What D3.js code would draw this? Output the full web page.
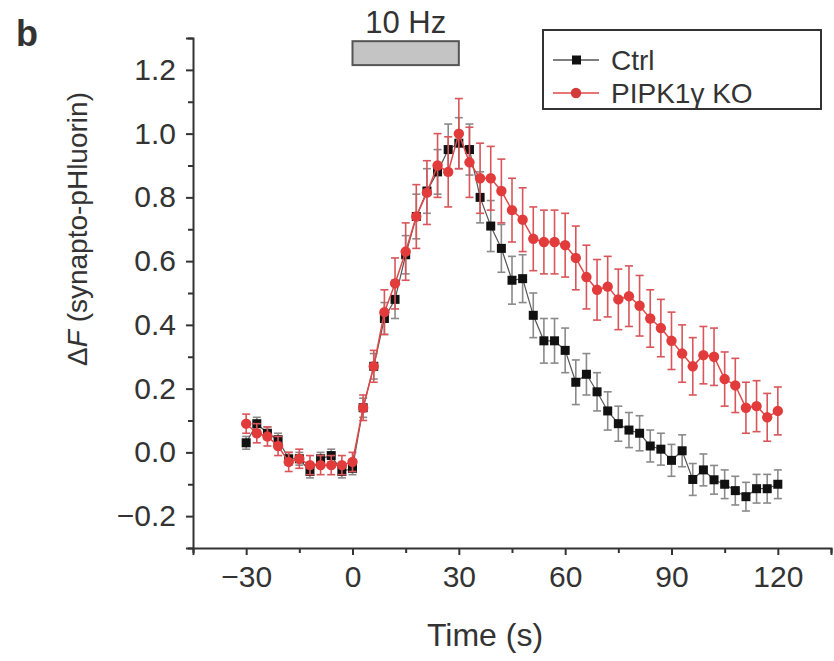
<!DOCTYPE html>
<html>
<head>
<meta charset="utf-8">
<script src="https://cdnjs.cloudflare.com/ajax/libs/d3/7.8.5/d3.min.js"></script>
<style>
  body { margin: 0; background: #fff; }
  text { font-family: "Liberation Sans", Arial, sans-serif; fill: #333; }
</style>
</head>
<body>
<svg width="834" height="661"></svg>
<script>
// time points, every 3 s from -30 to 120
var times = d3.range(-30, 121, 3);

var ctrlMean = [0.03, 0.09, 0.06, 0.04, -0.02, -0.02, -0.06, -0.02, -0.01, -0.06, -0.05,
  0.14, 0.27, 0.42, 0.48, 0.62, 0.74, 0.82, 0.88, 0.95, 0.97,
  0.95, 0.80, 0.71, 0.64, 0.54, 0.545, 0.43, 0.35, 0.35, 0.32,
  0.22, 0.245, 0.19, 0.13, 0.09, 0.07, 0.06, 0.02, 0.01, -0.025,
  0.005, -0.085, -0.055, -0.086, -0.10, -0.12, -0.139, -0.114, -0.114, -0.10];
var ctrlErr = [0.02, 0.02, 0.02, 0.02, 0.02, 0.02, 0.02, 0.02, 0.02, 0.02, 0.02,
  0.03, 0.04, 0.05, 0.06, 0.06, 0.07, 0.07, 0.07, 0.08, 0.08,
  0.08, 0.08, 0.08, 0.075, 0.075, 0.075, 0.07, 0.07, 0.07, 0.07,
  0.07, 0.065, 0.06, 0.06, 0.055, 0.055, 0.055, 0.05, 0.05, 0.05,
  0.05, 0.05, 0.05, 0.045, 0.045, 0.045, 0.045, 0.045, 0.045, 0.045];

var koMean = [0.09, 0.06, 0.05, 0.02, -0.03, -0.02, -0.04, -0.04, -0.04, -0.04, -0.03,
  0.14, 0.27, 0.44, 0.53, 0.63, 0.74, 0.815, 0.90, 0.88, 1.00,
  0.91, 0.86, 0.86, 0.82, 0.76, 0.73, 0.67, 0.66, 0.66, 0.65,
  0.61, 0.55, 0.51, 0.52, 0.48, 0.49, 0.46, 0.42, 0.39, 0.35,
  0.31, 0.27, 0.305, 0.30, 0.23, 0.21, 0.14, 0.145, 0.11, 0.13];
var koErr = [0.03, 0.03, 0.03, 0.03, 0.03, 0.03, 0.03, 0.03, 0.03, 0.03, 0.03,
  0.04, 0.05, 0.07, 0.08, 0.09, 0.10, 0.10, 0.10, 0.11, 0.11,
  0.11, 0.11, 0.10, 0.10, 0.10, 0.10, 0.10, 0.10, 0.10, 0.10,
  0.10, 0.10, 0.095, 0.095, 0.095, 0.095, 0.095, 0.09, 0.09, 0.09,
  0.09, 0.09, 0.09, 0.09, 0.085, 0.085, 0.08, 0.08, 0.075, 0.075];

var xTicks = [-30, 0, 30, 60, 90, 120];
var yTicks = [-0.2, 0, 0.2, 0.4, 0.6, 0.8, 1.0, 1.2];
var stimulus = {start: 0, end: 30, label: "10 Hz"};
var seriesNames = ["Ctrl", "PIPK1\u03b3 KO"];

var svg = d3.select("svg"),
    margin = {top: 38, right: 3, bottom: 113, left: 193},
    width = +svg.attr("width") - margin.left - margin.right,
    height = +svg.attr("height") - margin.top - margin.bottom,
    g = svg.append("g").attr("transform", "translate(" + margin.left + "," + margin.top + ")");

var x = d3.scaleLinear().domain([-45, 135]).range([0, width]),
    y = d3.scaleLinear().domain([-0.3, 1.3]).range([height, 0]);

var ctrl = times.map(function(t, i) { return {t: t, v: ctrlMean[i], e: ctrlErr[i]}; });
var ko = times.map(function(t, i) { return {t: t, v: koMean[i], e: koErr[i]}; });

// axes, majors labelled, minors in between
var xAxis = g.append("g")
    .attr("transform", "translate(0," + height + ")")
    .call(d3.axisBottom(x).tickValues(d3.range(-45, 136, 15)).tickSize(7).tickFormat(function(d) {
        return xTicks.indexOf(d) >= 0 ? d3.format("")(d).replace("-", "\u2212") : "";
    }));
var yAxis = g.append("g")
    .call(d3.axisLeft(y).tickValues(d3.range(-3, 14).map(function(d) { return d / 10; }))
        .tickSize(7).tickFormat(function(d) {
            var r = Math.round(d * 10);
            return yTicks.some(function(t) { return Math.round(t * 10) === r; })
                ? d3.format(".1f")(d).replace("-", "\u2212") : "";
        }));

[xAxis, yAxis].forEach(function(a) {
    a.select(".domain").attr("stroke", "#333").attr("stroke-width", 2);
    a.selectAll(".tick line").attr("stroke", "#333").attr("stroke-width", 2);
    a.selectAll(".tick text").attr("font-size", 30).attr("fill", "#333")
        .attr("font-family", "Liberation Sans, Arial, sans-serif");
});
xAxis.selectAll(".tick text").attr("dy", "1.0em").attr("y", 9);
yAxis.selectAll(".tick text").attr("x", -17);
xAxis.selectAll(".tick").filter(function(d) { return xTicks.indexOf(d) < 0; })
    .select("line").attr("y2", 5);
yAxis.selectAll(".tick").filter(function(d) { return Math.round(d * 10) % 2 !== 0; })
    .select("line").attr("x2", -5);

// axis titles
svg.append("text")
    .attr("x", 485).attr("y", 646)
    .attr("text-anchor", "middle").attr("font-size", 32)
    .text("Time (s)");

var yl = svg.append("text")
    .attr("transform", "translate(87,229) rotate(-90)")
    .attr("text-anchor", "middle").attr("font-size", 28);
yl.append("tspan").text("\u0394");
yl.append("tspan").attr("font-style", "italic").text("F");
yl.append("tspan").text(" (synapto-pHluorin)");

svg.append("text")
    .attr("x", 16).attr("y", 46)
    .attr("font-size", 36).attr("font-weight", "bold").attr("fill", "#111")
    .text("b");

// stimulus bar
g.append("rect")
    .attr("x", x(stimulus.start)).attr("width", x(stimulus.end) - x(stimulus.start))
    .attr("y", y(1.29) - margin.top + 38).attr("height", y(1.215) - y(1.29))
    .attr("fill", "#c4c4c4").attr("stroke", "#555").attr("stroke-width", 2);
g.append("text")
    .attr("x", x((stimulus.start + stimulus.end) / 2)).attr("y", -5)
    .attr("text-anchor", "middle").attr("font-size", 31)
    .text(stimulus.label);

var line = d3.line()
    .x(function(d) { return x(d.t); })
    .y(function(d) { return y(d.v); });

function errorBars(data, color, cls) {
    var eb = g.append("g").attr("class", cls).attr("stroke", color).attr("stroke-width", 1.6);
    eb.selectAll("line.v").data(data).enter().append("line").attr("class", "v")
        .attr("x1", function(d) { return x(d.t); }).attr("x2", function(d) { return x(d.t); })
        .attr("y1", function(d) { return y(d.v - d.e); }).attr("y2", function(d) { return y(d.v + d.e); });
    [-1, 1].forEach(function(s) {
        eb.selectAll("line.c" + (s > 0 ? "p" : "m")).data(data).enter().append("line")
            .attr("class", "c" + (s > 0 ? "p" : "m"))
            .attr("x1", function(d) { return x(d.t) - 4; }).attr("x2", function(d) { return x(d.t) + 4; })
            .attr("y1", function(d) { return y(d.v + s * d.e); }).attr("y2", function(d) { return y(d.v + s * d.e); });
    });
}

// Ctrl
errorBars(ctrl, "#8a8a8a", "err-ctrl");
g.append("path").datum(ctrl).attr("d", line)
    .attr("fill", "none").attr("stroke", "#555").attr("stroke-width", 1.2);
g.selectAll(".sq").data(ctrl).enter().append("rect").attr("class", "sq")
    .attr("x", function(d) { return x(d.t) - 4.5; }).attr("y", function(d) { return y(d.v) - 4.5; })
    .attr("width", 9).attr("height", 9).attr("fill", "#111");

// KO
errorBars(ko, "#d9555a", "err-ko");
g.append("path").datum(ko).attr("d", line)
    .attr("fill", "none").attr("stroke", "#e04848").attr("stroke-width", 1.5);
g.selectAll(".dot").data(ko).enter().append("circle").attr("class", "dot")
    .attr("cx", function(d) { return x(d.t); }).attr("cy", function(d) { return y(d.v); })
    .attr("r", 5.2).attr("fill", "#e23b3b");

// legend
var lg = svg.append("g").attr("transform", "translate(543,30)");
lg.append("rect").attr("width", 278).attr("height", 79)
    .attr("fill", "#fff").attr("stroke", "#333").attr("stroke-width", 2);
seriesNames.forEach(function(name, i) {
    var row = lg.append("g").attr("transform", "translate(0," + (30 + i * 33) + ")");
    row.append("line").attr("x1", 10).attr("x2", 56)
        .attr("stroke", i === 0 ? "#555" : "#e04848").attr("stroke-width", 1.5);
    if (i === 0) {
        row.append("rect").attr("x", 29).attr("y", -4.5).attr("width", 9).attr("height", 9).attr("fill", "#111");
    } else {
        row.append("circle").attr("cx", 33).attr("r", 5.2).attr("fill", "#d33a3a");
    }
    row.append("text").attr("x", 68).attr("y", 10).attr("font-size", 28).text(name);
});
</script>
</body>
</html>
